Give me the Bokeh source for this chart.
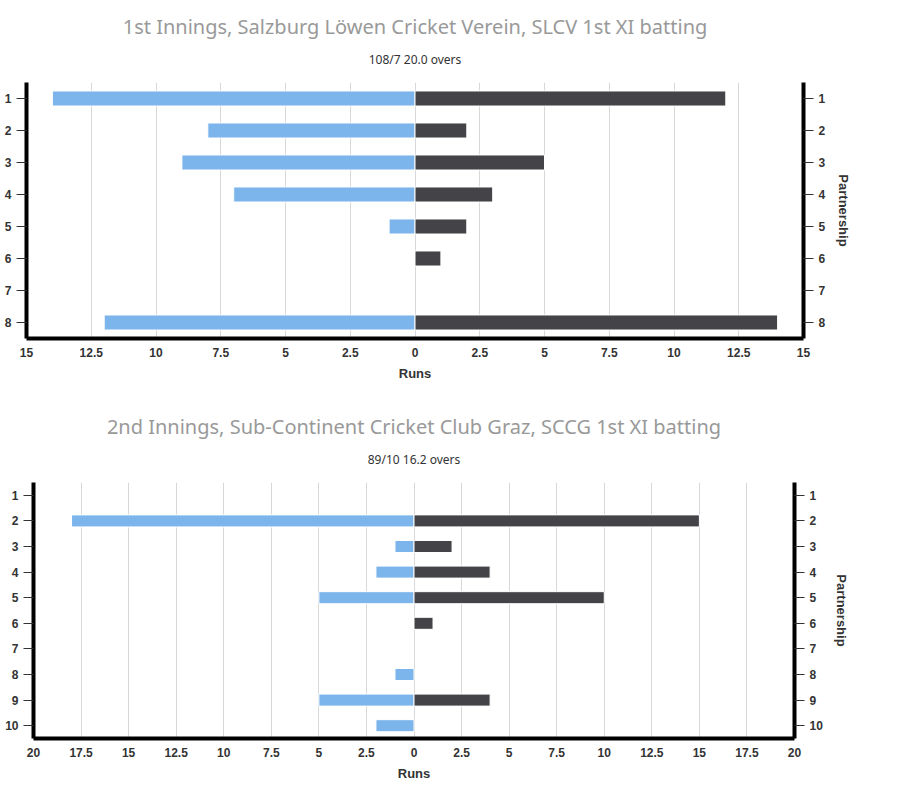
from bokeh.plotting import figure
from bokeh.models import (Range1d, FixedTicker, LinearAxis, Title,
                          CustomJSTickFormatter, ColumnDataSource)
from bokeh.embed import file_html
from bokeh.resources import INLINE

# ---------------- data ----------------
title1 = "1st Innings, Salzburg Löwen Cricket Verein, SLCV 1st XI batting"
subtitle1 = "108/7 20.0 overs"
partnership1 = [1, 2, 3, 4, 5, 6, 7, 8]
left_runs1 = [14, 8, 9, 7, 1, 0, 0, 12]
right_runs1 = [12, 2, 5, 3, 2, 1, 0, 14]
x_ticks1 = [-15, -12.5, -10, -7.5, -5, -2.5, 0, 2.5, 5, 7.5, 10, 12.5, 15]

title2 = "2nd Innings, Sub-Continent Cricket Club Graz, SCCG 1st XI batting"
subtitle2 = "89/10 16.2 overs"
partnership2 = [1, 2, 3, 4, 5, 6, 7, 8, 9, 10]
left_runs2 = [0, 18, 1, 2, 5, 0, 0, 1, 5, 2]
right_runs2 = [0, 15, 2, 4, 10, 1, 0, 0, 4, 0]
x_ticks2 = [-20, -17.5, -15, -12.5, -10, -7.5, -5, -2.5, 0, 2.5, 5, 7.5, 10, 12.5, 15, 17.5, 20]

x_axis_title = "Runs"
y_axis_title = "Partnership"

BLUE = "#7cb5ec"
DARK = "#434348"
TXT = "#333333"
LABEL_FONT = "Liberation Sans"
TITLE_FONT = "Noto Sans"


def make_chart(title, subtitle, parts, left_runs, right_runs, x_ticks,
               height, b_left, b_right, b_top, b_bottom):
    xmin, xmax = x_ticks[0], x_ticks[-1]
    p = figure(width=882, height=height, output_backend="svg", toolbar_location=None,
               x_range=Range1d(xmin, xmax),
               y_range=Range1d(len(parts) + 0.5, 0.5),
               min_border_left=b_left, min_border_right=b_right,
               min_border_top=b_top, min_border_bottom=b_bottom,
               x_axis_location="below", y_axis_location="left")
    p.outline_line_color = None
    p.background_fill_color = "white"
    p.border_fill_color = "white"

    p.add_layout(Title(text=subtitle, align="center", text_font=TITLE_FONT,
                       text_font_size="12px", text_font_style="normal",
                       text_color=TXT, standoff=30), "above")
    p.add_layout(Title(text=title, align="center", text_font=TITLE_FONT,
                       text_font_size="20px", text_font_style="normal",
                       text_color="#999999", standoff=-12), "above")

    lsrc = ColumnDataSource(dict(y=[y for y, v in zip(parts, left_runs) if v],
                                 left=[-v for v in left_runs if v]))
    rsrc = ColumnDataSource(dict(y=[y for y, v in zip(parts, right_runs) if v],
                                 right=[v for v in right_runs if v]))
    p.hbar(y="y", left="left", right=0, height=0.47, source=lsrc,
           fill_color=BLUE, line_color="white", line_width=1)
    p.hbar(y="y", left=0, right="right", height=0.47, source=rsrc,
           fill_color=DARK, line_color="white", line_width=1)

    xa = p.xaxis[0]
    xa.ticker = FixedTicker(ticks=x_ticks)
    xa.formatter = CustomJSTickFormatter(code="return Math.abs(tick).toString();")
    xa.axis_line_width = 4
    xa.axis_line_color = "black"
    xa.major_tick_line_color = None
    xa.minor_tick_line_color = None
    xa.major_label_text_font = LABEL_FONT
    xa.major_label_text_font_style = "bold"
    xa.major_label_text_font_size = "12px"
    xa.major_label_text_color = TXT
    xa.major_label_standoff = 3
    xa.axis_label = x_axis_title
    xa.axis_label_text_font = LABEL_FONT
    xa.axis_label_text_font_style = "bold"
    xa.axis_label_text_font_size = "13px"
    xa.axis_label_text_color = TXT
    xa.axis_label_standoff = 6

    p.xgrid.ticker = FixedTicker(ticks=x_ticks)
    p.xgrid.grid_line_color = "#d8d8d8"
    p.ygrid.visible = False

    def style_y(ax):
        ax.ticker = FixedTicker(ticks=parts)
        ax.axis_line_width = 4
        ax.axis_line_color = "black"
        ax.major_tick_out = 10
        ax.major_tick_in = 0
        ax.major_tick_line_color = TXT
        ax.minor_tick_line_color = None
        ax.major_label_text_font = LABEL_FONT
        ax.major_label_text_font_style = "bold"
        ax.major_label_text_font_size = "12px"
        ax.major_label_text_color = TXT
        ax.major_label_standoff = 5

    style_y(p.yaxis[0])
    ra = LinearAxis()
    style_y(ra)
    ra.axis_label = y_axis_title
    ra.axis_label_text_font = LABEL_FONT
    ra.axis_label_text_font_style = "bold"
    ra.axis_label_text_font_size = "13px"
    ra.axis_label_text_color = TXT
    ra.axis_label_standoff = 8
    p.add_layout(ra, "right")
    return p


p1 = make_chart(title1, subtitle1, partnership1, left_runs1, right_runs1, x_ticks1,
                396, 26, 79, 82, 58)
p2 = make_chart(title2, subtitle2, partnership2, left_runs2, right_runs2, x_ticks2,
                390, 33, 88, 86, 48)

open("out.html", "w").write(file_html([p1, p2], INLINE))
